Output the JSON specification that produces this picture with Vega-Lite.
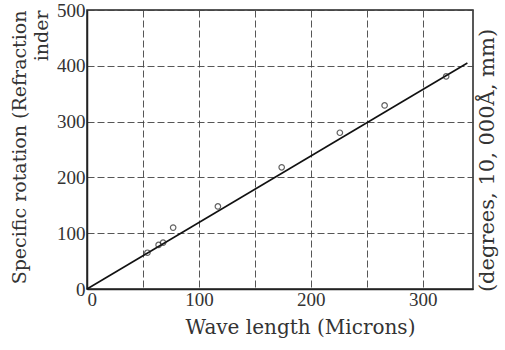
{
  "$schema": "https://vega.github.io/schema/vega-lite/v6.json",
  "width": 386,
  "height": 279,
  "autosize": {"type": "none"},
  "padding": {"left": 87, "top": 10, "right": 32, "bottom": 61},
  "background": "white",
  "config": {
    "view": {"stroke": "#222", "strokeWidth": 1.5},
    "font": "DejaVu Serif",
    "axis": {
      "labelFont": "Liberation Serif",
      "titleFont": "DejaVu Serif",
      "labelColor": "#333",
      "titleColor": "#333",
      "titleFontWeight": "normal",
      "gridColor": "#444",
      "gridDash": [7, 3],
      "gridWidth": 1,
      "gridOpacity": 0.9,
      "domainColor": "#222",
      "tickSize": 0
    }
  },
  "datasets": {
    "fit": [
      {"wavelength": 0, "rotation": 0},
      {"wavelength": 340, "rotation": 405}
    ],
    "obs": [
      {"wavelength": 54, "rotation": 65},
      {"wavelength": 64, "rotation": 79},
      {"wavelength": 68, "rotation": 83},
      {"wavelength": 77, "rotation": 110},
      {"wavelength": 117, "rotation": 148},
      {"wavelength": 174, "rotation": 218},
      {"wavelength": 226, "rotation": 280},
      {"wavelength": 266, "rotation": 329},
      {"wavelength": 321, "rotation": 381}
    ]
  },
  "layer": [
    {
      "encoding": {
        "x": {
          "field": "wavelength",
          "type": "quantitative",
          "scale": {"domain": [0, 345], "nice": false, "zero": false},
          "axis": {
            "title": "Wave length (Microns)",
            "values": [0, 50, 100, 150, 200, 250, 300],
            "labelExpr": "datum.value % 100 == 0 ? datum.label : ''",
            "labelFontSize": 19,
            "titleFontSize": 20,
            "labelPadding": 1,
            "titlePadding": 8,
            "titleX": 213,
            "domainWidth": 1.5
          }
        },
        "y": {
          "field": "rotation",
          "type": "quantitative",
          "scale": {"domain": [0, 500], "nice": false},
          "axis": {
            "title": ["Specific rotation (Refraction", "inder"],
            "values": [0, 100, 200, 300, 400, 500],
            "labelFontSize": 19,
            "titleFontSize": 19,
            "labelPadding": 2,
            "titlePadding": 5,
            "titleAnchor": "end",
            "titleAlign": "right",
            "titleLineHeight": 22,
            "domainWidth": 1.5
          }
        }
      },
      "layer": [
        {
          "data": {"name": "fit"},
          "mark": {"type": "line", "color": "#111", "strokeWidth": 1.6}
        },
        {
          "data": {"name": "obs"},
          "mark": {"type": "point", "shape": "circle", "filled": false, "color": "#222", "size": 30, "strokeWidth": 1.2}
        }
      ]
    },
    {
      "data": {"name": "fit"},
      "mark": {"type": "point", "opacity": 0},
      "encoding": {
        "x": {"field": "wavelength", "type": "quantitative"},
        "y": {
          "field": "rotation",
          "type": "quantitative",
          "axis": {
            "orient": "right",
            "title": "(degrees, 10, 000Å, mm)",
            "titleAngle": -90,
            "titleBaseline": "top",
            "titleFontSize": 21,
            "titleAnchor": "middle",
            "titleY": 150,
            "labels": false,
            "ticks": false,
            "grid": false,
            "domain": false,
            "titlePadding": 3
          }
        }
      }
    }
  ],
  "resolve": {"axis": {"y": "independent"}}
}
